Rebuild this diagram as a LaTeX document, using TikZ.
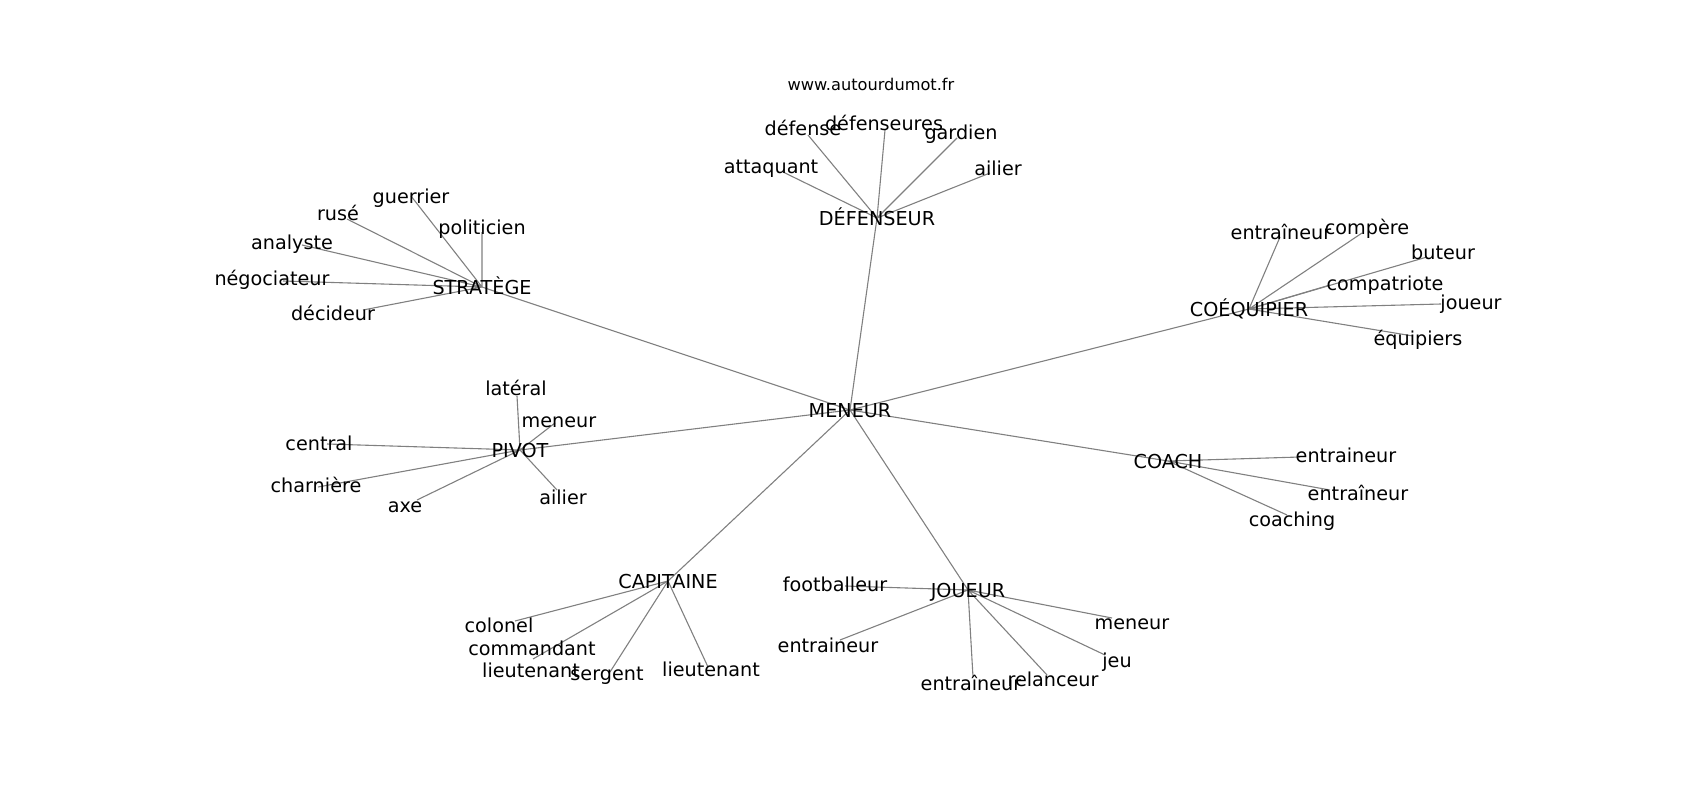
\documentclass[tikz,border=0pt]{standalone}
\usepackage{fontspec}
\setmainfont{DejaVu Sans}
\usepackage{tikz}
\usetikzlibrary{backgrounds}

\tikzset{
  word/.style={font=\fontsize{19.2}{23}\selectfont, inner sep=0pt, text height=18.6pt, text depth=4pt},
  site/.style={font=\fontsize{16.2}{19}\selectfont, inner sep=0pt},
  link/.style={draw=gray, line width=1.1pt},
}

\begin{document}
\begin{tikzpicture}[x=1pt, y=-1pt]
\useasboundingbox (0,0) rectangle (1700,800);
\node[site] (site) at (871,84) {www.autourdumot.fr};

\node[word] (meneur) at (850,410) {MENEUR};
\node[word] (strat) at (482,287) {STRATÈGE};
\node[word] (def) at (877,218) {DÉFENSEUR};
\node[word] (coeq) at (1249,309) {COÉQUIPIER};
\node[word] (pivot) at (520,450) {PIVOT};
\node[word] (coach) at (1168,461) {COACH};
\node[word] (capit) at (668,581) {CAPITAINE};
\node[word] (joueur) at (968,590) {JOUEUR};

% strategie
\node[word] (s1) at (411,196) {guerrier};
\node[word] (s2) at (482,227) {politicien};
\node[word] (s3) at (338,213) {rusé};
\node[word] (s4) at (292,242) {analyste};
\node[word] (s5) at (272,278) {négociateur};
\node[word] (s6) at (333,313) {décideur};

% defense
\node[word] (d1) at (803,128) {défense};
\node[word] (d2) at (884,123) {défenseures};
\node[word] (d3) at (961,132) {gardien};
\node[word] (d4) at (771,166) {attaquant};
\node[word] (d5) at (998,168) {ailier};

% equipe
\node[word] (q1) at (1281,232) {entraîneur};
\node[word] (q2) at (1367,227) {compère};
\node[word] (q3) at (1443,252) {buteur};
\node[word] (q4) at (1385,283) {compatriote};
\node[word] (q5) at (1471,302) {joueur};
\node[word] (q6) at (1418,338) {équipiers};

% pivot
\node[word] (p1) at (516,388) {latéral};
\node[word] (p2) at (559,420) {meneur};
\node[word] (p3) at (319,443) {central};
\node[word] (p4) at (316,485) {charnière};
\node[word] (p5) at (405,505) {axe};
\node[word] (p6) at (563,497) {ailier};

% coach
\node[word] (c1) at (1346,455) {entraineur};
\node[word] (c2) at (1358,493) {entraîneur};
\node[word] (c3) at (1292,519) {coaching};

% capitaine
\node[word] (k1) at (499,625) {colonel};
\node[word] (k2) at (532,648) {commandant};
\node[word] (k3) at (531,670) {lieutenant};
\node[word] (k4) at (607,673) {sergent};
\node[word] (k5) at (711,669) {lieutenant};

% joueur
\node[word] (j1) at (835,584) {footballeur};
\node[word] (j2) at (828,645) {entraineur};
\node[word] (j3) at (971,683) {entraîneur};
\node[word] (j4) at (1053,679) {relanceur};
\node[word] (j5) at (1117,660) {jeu};
\node[word] (j6) at (1132,622) {meneur};

\begin{scope}[on background layer]
\draw[link] (meneur.center) -- (strat.center) (meneur.center) -- (def.center) (meneur.center) -- (coeq.center) (meneur.center) -- (pivot.center);
\draw[link] (meneur.center) -- (coach.center) (meneur.center) -- (capit.center) (meneur.center) -- (joueur.center);

\draw[link] (strat.center) -- (s1.center) (strat.center) -- ([shift={(0,5)}]s2.center) (strat.center) -- ([shift={(9,6)}]s3.center);
\draw[link] (strat.center) -- ([shift={(10,3)}]s4.center) (strat.center) -- ([shift={(11,3)}]s5.center) (strat.center) -- ([shift={(30,-3)}]s6.center);

\draw[link] (def.center) -- ([shift={(5,7)}]d1.center) (def.center) -- ([shift={(1,7)}]d2.center) (def.center) -- ([shift={(-4,6)}]d3.center);
\draw[link] (def.center) -- ([shift={(12,6)}]d4.center) (def.center) -- ([shift={(-8,5)}]d5.center);

\draw[link] (coeq.center) -- ([shift={(-1,5)}]q1.center) (coeq.center) -- ([shift={(-5,6)}]q2.center) (coeq.center) -- ([shift={(-16,5)}]q3.center);
\draw[link] (coeq.center) -- ([shift={(-55,2)}]q4.center) (coeq.center) -- ([shift={(-30,2)}]q5.center) (coeq.center) -- ([shift={(-5,-2)}]q6.center);

\draw[link] (pivot.center) -- ([shift={(1,8)}]p1.center) (pivot.center) -- ([shift={(-4,3)}]p2.center) (pivot.center) -- ([shift={(8,1)}]p3.center);
\draw[link] (pivot.center) -- ([shift={(2,2)}]p4.center) (pivot.center) -- ([shift={(12,-5)}]p5.center) (pivot.center) -- ([shift={(-6,-7)}]p6.center);

\draw[link] (coach.center) -- ([shift={(-46,2)}]c1.center) (coach.center) -- ([shift={(-28,-3)}]c2.center) (coach.center) -- ([shift={(-5,-4)}]c3.center);

\draw[link] (capit.center) -- ([shift={(16,-4)}]k1.center) (capit.center) -- ([shift={(1,11)}]k2.center) (capit.center) -- ([shift={(2,-11)}]k3.center);
\draw[link] (capit.center) -- ([shift={(3,-1)}]k4.center) (capit.center) -- ([shift={(-3,-2)}]k5.center);

\draw[link] (joueur.center) -- ([shift={(10,2)}]j1.center) (joueur.center) -- ([shift={(12,-5)}]j2.center) (joueur.center) -- ([shift={(2,-6)}]j3.center);
\draw[link] (joueur.center) -- ([shift={(-6,-4)}]j4.center) (joueur.center) -- ([shift={(-12,-5)}]j5.center) (joueur.center) -- ([shift={(-20,-4)}]j6.center);
\end{scope}
\end{tikzpicture}
\end{document}
